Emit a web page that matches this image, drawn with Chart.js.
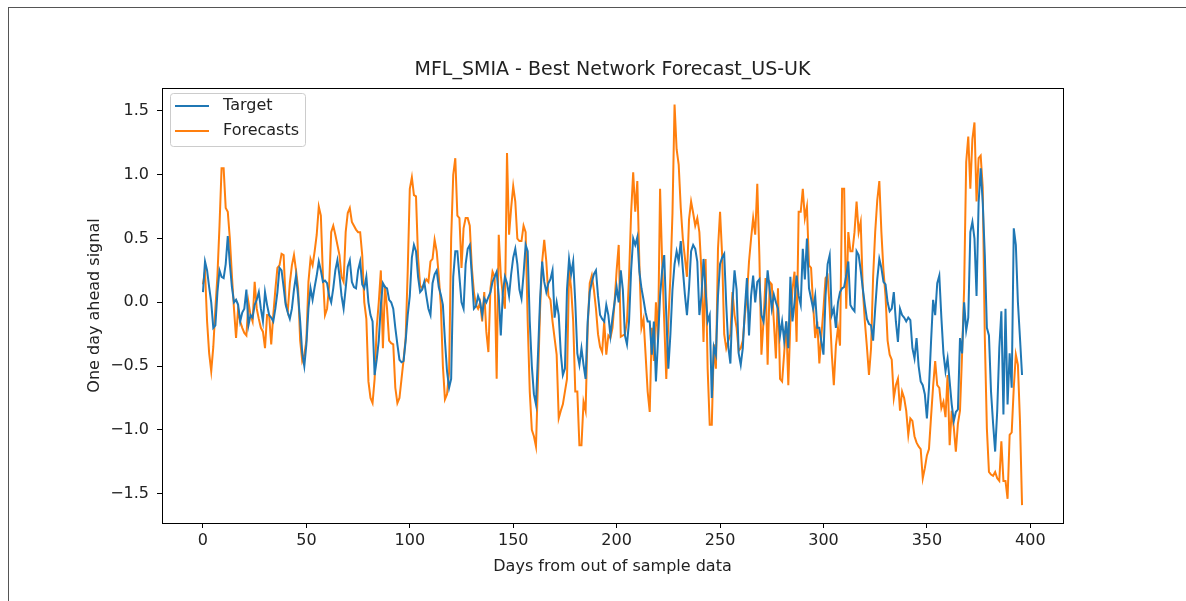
<!DOCTYPE html>
<html>
<head>
<meta charset="utf-8">
<script src="https://cdn.jsdelivr.net/npm/chart.js@4.4.1/dist/chart.umd.min.js"></script>
<style>
  html, body { margin: 0; padding: 0; background: #fff; }
  #wrap { position: relative; width: 1186px; height: 601px; overflow: hidden; }
  #frame { position: absolute; left: 8px; top: 7px; right: -2px; bottom: -2px; border-top: 1px solid #555; border-left: 1px solid #555; }
  canvas { position: absolute; left: 0; top: 0; }
</style>
</head>
<body>
<div id="wrap">
  <div id="frame"></div>
  <canvas id="chart" width="1186" height="601"></canvas>
</div>
<script>
// text
const chartTitle = 'MFL_SMIA - Best Network Forecast_US-UK';
const xTitle = 'Days from out of sample data';
const yTitle = 'One day ahead signal';
const seriesNames = ['Target', 'Forecasts'];

// ticks
const xTicks = [0, 50, 100, 150, 200, 250, 300, 350, 400];
const yTicks = [-1.5, -1.0, -0.5, 0.0, 0.5, 1.0, 1.5];
const yTickLabels = ['\u22121.5', '\u22121.0', '\u22120.5', '0.0', '0.5', '1.0', '1.5'];

// values, one per day
const target = [
  0.08, 0.32, 0.25, 0.12, 0.00, -0.20, -0.18, 0.08, 0.25, 0.20,
  0.19, 0.30, 0.52, 0.30, 0.12, 0.00, 0.02, -0.02, -0.15, -0.08,
  -0.05, 0.10, -0.18, -0.10, -0.12, -0.02, 0.02, 0.08, -0.05, -0.15,
  0.08, -0.02, -0.10, -0.12, -0.15, -0.05, 0.08, 0.27, 0.25, 0.12,
  -0.02, -0.08, -0.13, -0.05, 0.10, 0.21, 0.05, -0.15, -0.40, -0.50,
  -0.33, -0.05, 0.11, 0.02, 0.12, 0.21, 0.32, 0.25, 0.16, 0.17,
  0.15, 0.05, 0.00, 0.11, 0.25, 0.33, 0.21, 0.05, -0.05, 0.11,
  0.28, 0.33, 0.16, 0.12, 0.11, 0.25, 0.32, 0.14, 0.11, 0.20,
  0.00, -0.10, -0.15, -0.57, -0.45, -0.30, -0.02, 0.15, 0.12, 0.11,
  0.02, 0.00, -0.05, -0.20, -0.33, -0.45, -0.47, -0.46, -0.30, -0.10,
  0.05, 0.35, 0.45, 0.40, 0.20, 0.08, 0.10, 0.16, 0.05, -0.05,
  -0.10, 0.15, 0.22, 0.25, 0.12, 0.06, -0.02, -0.30, -0.54, -0.67,
  -0.60, 0.20, 0.40, 0.40, 0.20, 0.00, -0.05, 0.30, 0.42, 0.45,
  0.21, -0.05, -0.03, 0.05, 0.00, -0.10, 0.03, 0.00, 0.04, 0.08,
  0.16, 0.20, 0.24, 0.05, -0.26, 0.08, 0.20, 0.15, 0.05, 0.22,
  0.35, 0.42, 0.30, 0.10, 0.03, 0.22, 0.45, 0.40, -0.15, -0.50,
  -0.72, -0.80, -0.40, 0.03, 0.32, 0.16, 0.08, 0.15, 0.18, 0.25,
  -0.12, 0.00, -0.10, -0.40, -0.57, -0.52, 0.10, 0.34, 0.22, 0.32,
  0.00, -0.40, -0.49, -0.36, -0.49, -0.60, -0.15, 0.08, 0.16, 0.22,
  0.25, 0.05, -0.10, -0.13, -0.15, -0.02, -0.10, -0.26, -0.12, 0.00,
  0.12, 0.00, 0.25, 0.10, -0.26, -0.33, -0.15, 0.25, 0.50, 0.45,
  0.51, 0.24, 0.11, 0.02, -0.08, -0.15, -0.15, -0.41, -0.15, -0.62,
  -0.30, 0.05, 0.25, 0.37, -0.10, -0.52, -0.25, 0.10, 0.30, 0.40,
  0.32, 0.48, 0.26, 0.06, -0.10, 0.11, 0.40, 0.45, 0.42, 0.32,
  -0.10, 0.05, 0.34, 0.10, -0.15, -0.10, -0.75, -0.35, -0.41, 0.05,
  0.30, 0.35, 0.38, -0.02, -0.35, -0.48, 0.00, 0.25, 0.10, -0.40,
  -0.49, -0.36, -0.05, 0.19, -0.26, 0.05, 0.21, 0.00, 0.16, 0.18,
  -0.10, -0.15, 0.00, 0.25, 0.10, -0.05, 0.06, 0.00, -0.05, -0.26,
  -0.15, -0.30, -0.15, -0.36, 0.20, -0.15, 0.00, 0.21, 0.05, -0.02,
  0.42, 0.18, 0.50, 0.11, 0.03, -0.05, 0.05, -0.20, -0.20, -0.31,
  -0.41, 0.05, 0.30, 0.37, -0.10, -0.05, -0.20, 0.00, 0.08, 0.11,
  0.12, 0.21, 0.32, -0.02, -0.05, -0.07, 0.40, 0.37, 0.25, 0.11,
  -0.02, -0.13, -0.17, -0.18, -0.30, -0.05, 0.18, 0.34, 0.27, 0.16,
  0.14, 0.00, -0.07, -0.05, 0.08, -0.15, -0.31, -0.05, -0.10, -0.12,
  -0.15, -0.12, -0.14, -0.36, -0.44, -0.28, -0.50, -0.62, -0.65, -0.72,
  -0.91, -0.67, -0.31, 0.02, -0.10, 0.15, 0.21, -0.12, -0.40, -0.54,
  -0.44, -0.62, -0.80, -0.93, -0.86, -0.84, -0.28, -0.40, 0.00, -0.22,
  -0.12, 0.55, 0.63, 0.50, 0.05, 0.78, 1.05, 0.78, 0.37, -0.20,
  -0.26, -0.70, -0.95, -1.17, -0.85, -0.36, -0.07, -0.88, -0.05, -0.80,
  -0.40, -0.67, 0.58, 0.45, 0.00, -0.28, -0.57
];

const forecasts = [
  0.14, 0.24, -0.15, -0.40, -0.54, -0.35, -0.05, 0.21, 0.60, 1.05,
  1.05, 0.74, 0.71, 0.50, 0.21, -0.05, -0.28, -0.05, -0.15, -0.20,
  -0.24, -0.26, 0.00, -0.10, -0.15, 0.16, -0.05, -0.13, -0.20, -0.23,
  -0.36, -0.10, -0.10, -0.33, -0.10, 0.10, 0.27, 0.29, 0.38, 0.37,
  0.00, -0.07, 0.15, 0.29, 0.37, 0.25, 0.11, -0.30, -0.46, -0.41,
  -0.30, 0.16, 0.34, 0.29, 0.40, 0.53, 0.75, 0.68, 0.21, -0.10,
  -0.05, 0.13, 0.55, 0.60, 0.53, 0.45, 0.37, 0.20, 0.16, 0.55,
  0.70, 0.74, 0.63, 0.60, 0.57, 0.55, 0.55, 0.37, 0.00, -0.13,
  -0.62, -0.75, -0.79, -0.60, -0.20, 0.00, 0.25, -0.36, 0.13, -0.05,
  -0.30, -0.32, -0.33, -0.67, -0.79, -0.75, -0.60, -0.45, -0.28, 0.25,
  0.89, 0.98, 0.84, 0.83, 0.35, 0.13, 0.11, 0.15, 0.18, 0.16,
  0.32, 0.34, 0.49, 0.40, 0.21, -0.02, -0.50, -0.76, -0.72, -0.55,
  0.50, 1.00, 1.13, 0.68, 0.66, 0.27, 0.58, 0.66, 0.66, 0.60,
  0.27, 0.08, -0.02, -0.05, 0.00, -0.15, 0.08, -0.23, -0.39, 0.11,
  0.24, 0.20, -0.60, 0.53, 0.21, 0.05, -0.05, 1.17, 0.53, 0.74,
  0.91, 0.79, 0.50, 0.48, 0.48, 0.60, 0.55, -0.15, -0.70, -1.00,
  -1.05, -1.13, -0.60, -0.05, 0.32, 0.49, 0.32, 0.05, 0.02, -0.15,
  -0.28, -0.41, -0.91, -0.85, -0.80, -0.70, -0.60, 0.26, 0.11, -0.15,
  -0.70, -0.70, -1.12, -1.12, -0.78, -0.85, -0.20, 0.15, 0.21, 0.10,
  -0.05, -0.25, -0.35, -0.39, -0.15, -0.41, -0.26, -0.28, -0.20, 0.00,
  0.25, 0.45, -0.27, -0.26, -0.25, -0.15, 0.20, 0.70, 1.02, 0.71,
  0.95, 0.30, -0.20, -0.13, -0.41, -0.70, -0.86, -0.20, -0.46, 0.00,
  -0.31, 0.89, 0.32, -0.15, -0.60, -0.15, 0.20, 0.70, 1.55, 1.20,
  1.08, 0.74, 0.50, 0.35, 0.20, 0.65, 0.79, 0.70, 0.60, 0.66,
  0.55, 0.24, -0.31, 0.34, -0.52, -0.96, -0.96, -0.33, -0.52, 0.42,
  0.71, 0.37, -0.25, -0.36, -0.30, -0.25, 0.08, -0.10, -0.20, -0.38,
  -0.36, -0.30, -0.10, 0.05, 0.32, 0.50, 0.66, 0.53, 0.93, 0.37,
  -0.41, -0.15, 0.19, -0.49, 0.16, 0.14, -0.15, -0.44, 0.11, -0.60,
  -0.62, -0.40, -0.15, -0.65, -0.15, 0.10, 0.24, -0.31, 0.71, 0.71,
  0.89, 0.66, 0.75, 0.29, 0.27, -0.02, -0.28, -0.15, -0.48, -0.26,
  -0.05, 0.19, 0.21, -0.05, -0.40, -0.65, -0.34, -0.20, -0.34, 0.89,
  0.89, -0.05, 0.55, 0.40, 0.40, 0.55, 0.79, 0.55, 0.63, 0.11,
  -0.15, -0.35, -0.57, -0.36, 0.20, 0.55, 0.80, 0.95, 0.55, 0.25,
  0.05, -0.30, -0.41, -0.45, -0.75, -0.65, -0.60, -0.85, -0.70, -0.75,
  -0.85, -1.04, -0.91, -0.93, -1.05, -1.10, -1.13, -1.15, -1.38, -1.30,
  -1.20, -1.15, -0.90, -0.66, -0.46, -0.65, -0.67, -0.83, -0.78, -0.90,
  -0.57, -1.12, -0.85, -0.98, -1.17, -0.95, -0.85, -0.41, 0.11, 1.10,
  1.30, 0.89, 1.28, 1.41, 0.79, 1.13, 1.15, 0.90, -0.28, -0.99,
  -1.33, -1.35, -1.36, -1.33, -1.38, -1.40, -1.09, -1.40, -1.40, -1.54,
  -1.04, -1.02, -0.67, -0.41, -0.49, -0.93, -1.59
];

const colors = ['#1f77b4', '#ff7f0e'];

Chart.defaults.font.family = '"DejaVu Sans", sans-serif';
Chart.defaults.color = '#222';

// matplotlib-ish extras: box around the axes, title and the legend in the corner
const decorations = {
  id: 'decorations',
  afterDraw(chart) {
    const ctx = chart.ctx;
    const a = chart.chartArea;
    ctx.save();

    ctx.strokeStyle = '#000';
    ctx.lineWidth = 1;
    ctx.strokeRect(Math.round(a.left) + 0.5, Math.round(a.top) + 0.5,
                   Math.round(a.right - a.left), Math.round(a.bottom - a.top));

    ctx.fillStyle = '#222';
    ctx.font = '19px "DejaVu Sans", sans-serif';
    ctx.textAlign = 'center';
    ctx.textBaseline = 'middle';
    ctx.fillText(chartTitle, (a.left + a.right) / 2, 70);

    // legend
    const bx = a.left + 8, by = a.top + 5, bw = 135, bh = 53;
    ctx.beginPath();
    ctx.roundRect(bx + 0.5, by + 0.5, bw, bh, 3);
    ctx.fillStyle = 'rgba(255,255,255,0.8)';
    ctx.fill();
    ctx.strokeStyle = '#cccccc';
    ctx.stroke();

    ctx.font = '16px "DejaVu Sans", sans-serif';
    ctx.textAlign = 'left';
    seriesNames.forEach((name, i) => {
      const y = by + 13 + i * 25;
      ctx.beginPath();
      ctx.moveTo(bx + 5, y);
      ctx.lineTo(bx + 39, y);
      ctx.strokeStyle = colors[i];
      ctx.lineWidth = 2;
      ctx.stroke();
      ctx.fillStyle = '#222';
      ctx.fillText(name, bx + 53, y);
    });

    ctx.restore();
  }
};

const days = target.map((v, i) => i);

new Chart(document.getElementById('chart'), {
  type: 'line',
  data: {
    datasets: [
      {
        label: seriesNames[0],
        data: target.map((v, i) => ({ x: days[i], y: v })),
        borderColor: colors[0],
        borderWidth: 2,
        pointRadius: 0,
        tension: 0
      },
      {
        label: seriesNames[1],
        data: forecasts.map((v, i) => ({ x: days[i], y: v })),
        borderColor: colors[1],
        borderWidth: 2,
        pointRadius: 0,
        tension: 0
      }
    ]
  },
  options: {
    responsive: false,
    animation: false,
    layout: { padding: { top: 88, right: 123, bottom: 0, left: 0 } },
    plugins: {
      legend: { display: false },
      title: { display: false },
      tooltip: { enabled: false }
    },
    scales: {
      x: {
        type: 'linear',
        min: -19.8,
        max: 415.8,
        afterBuildTicks: s => { s.ticks = xTicks.map(v => ({ value: v })); },
        afterFit: s => { s.height = 78; },
        grid: { drawOnChartArea: false, tickLength: 5, tickColor: '#000' },
        border: { display: false },
        ticks: { padding: 3, font: { size: 16 }, maxRotation: 0, autoSkip: false },
        title: { display: true, text: xTitle, font: { size: 16 }, padding: { top: 0, bottom: 25 } }
      },
      y: {
        min: -1.73,
        max: 1.68,
        afterBuildTicks: s => { s.ticks = yTicks.map(v => ({ value: v })); },
        afterFit: s => { s.width = 162; },
        grid: { drawOnChartArea: false, tickLength: 5, tickColor: '#000' },
        border: { display: false },
        ticks: {
          padding: 8,
          font: { size: 16 },
          autoSkip: false,
          callback: v => yTickLabels[yTicks.indexOf(v)]
        },
        title: { display: true, text: yTitle, font: { size: 16 }, padding: { top: 85, bottom: 0 } }
      }
    }
  },
  plugins: [decorations]
});
</script>
</body>
</html>
